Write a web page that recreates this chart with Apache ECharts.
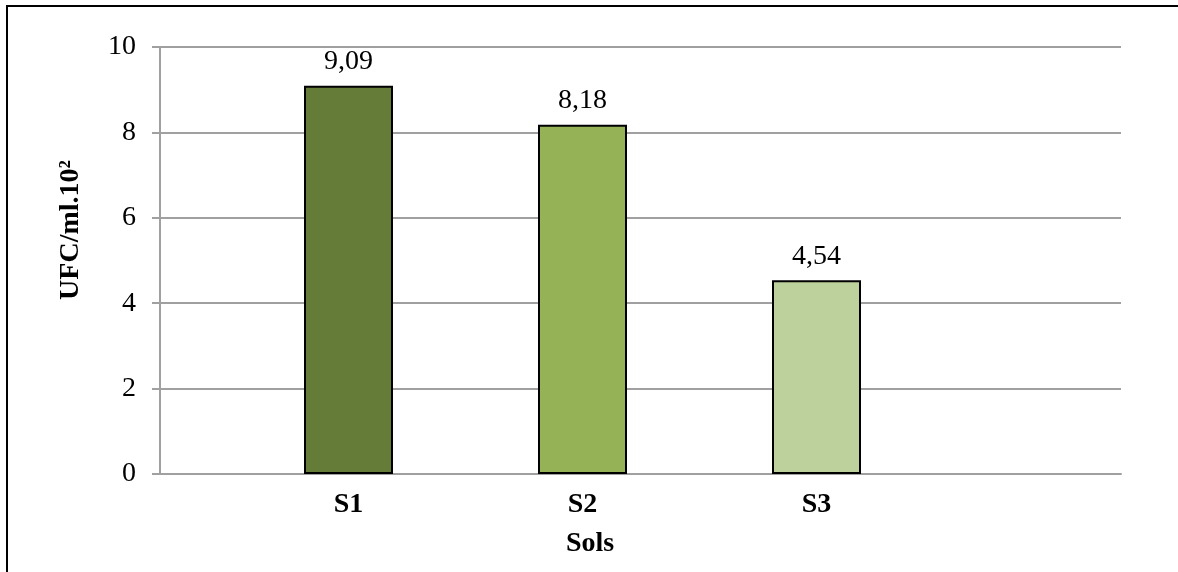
<!DOCTYPE html>
<html>
<head>
<meta charset="utf-8">
<script src="https://cdn.jsdelivr.net/npm/echarts@6/dist/echarts.min.js"></script>
<style>
html,body{margin:0;padding:0;background:#fff;}
#chart{width:1178px;height:572px;}
</style>
</head>
<body>
<div id="chart"></div>
<script>
const categories = ['S1', 'S2', 'S3'];
const values = [9.09, 8.18, 4.54];
const barColors = ['#657B38', '#95B356', '#BDD19D'];
const yTicks = { min: 0, max: 10, interval: 2 };
const yAxisTitle = 'UFC/ml.10²';
const xAxisTitle = 'Sols';

const FONT = '"Liberation Serif", "Times New Roman", serif';
const GRID_COLOR = '#A0A0A0';

const chart = echarts.init(document.getElementById('chart'), null, { renderer: 'canvas' });

const option = {
  backgroundColor: '#ffffff',
  animation: false,
  grid: [
    { left: 160, right: 57, top: 47, bottom: 98, containLabel: false },
    { left: 231.5, right: 244.5, top: 47, bottom: 98, containLabel: false }
  ],
  xAxis: [
    {
      gridIndex: 0, type: 'value', min: 0, max: 1,
      axisLine: { show: true, lineStyle: { color: GRID_COLOR, width: 2 } },
      axisTick: { show: false }, axisLabel: { show: false }, splitLine: { show: false }
    },
    {
      gridIndex: 1, type: 'category', data: categories,
      axisLine: { show: false }, axisTick: { show: false }, splitLine: { show: false },
      axisLabel: { margin: 17, fontFamily: FONT, fontSize: 28, fontWeight: 'bold', color: '#000' }
    }
  ],
  yAxis: [
    {
      gridIndex: 0, type: 'value', min: yTicks.min, max: yTicks.max, interval: yTicks.interval,
      axisLine: { show: true, lineStyle: { color: GRID_COLOR, width: 2 } },
      axisTick: { show: true, inside: false, length: 8, lineStyle: { color: GRID_COLOR, width: 2 } },
      splitLine: { show: true, lineStyle: { color: GRID_COLOR, width: 2 } },
      axisLabel: { margin: 24, fontFamily: FONT, fontSize: 28, color: '#000' }
    },
    {
      gridIndex: 1, type: 'value', min: yTicks.min, max: yTicks.max, interval: yTicks.interval,
      show: false
    }
  ],
  series: [
    {
      type: 'bar', xAxisIndex: 1, yAxisIndex: 1,
      barWidth: 89,
      data: values.map((v, i) => ({
        value: v,
        itemStyle: { color: barColors[i], borderColor: '#000', borderWidth: 2 }
      })),
      label: {
        show: true, position: 'top', distance: 10,
        fontFamily: FONT, fontSize: 28, color: '#000',
        formatter: p => p.value.toFixed(2).replace('.', ',')
      }
    }
  ],
  graphic: [
    {
      type: 'rect', silent: true, z: 100,
      shape: { x: 7, y: 6, width: 1300, height: 700 },
      style: { fill: 'none', stroke: '#000', lineWidth: 2 }
    },
    {
      type: 'text', x: 71, y: 230, rotation: Math.PI / 2,
      style: {
        text: yAxisTitle, fontFamily: FONT, fontSize: 28, fontWeight: 'bold',
        fill: '#000', align: 'center', verticalAlign: 'middle'
      }
    },
    {
      type: 'text', x: 590, y: 544,
      style: {
        text: xAxisTitle, fontFamily: FONT, fontSize: 28, fontWeight: 'bold',
        fill: '#000', align: 'center', verticalAlign: 'middle'
      }
    }
  ]
};

chart.setOption(option);
</script>
</body>
</html>
